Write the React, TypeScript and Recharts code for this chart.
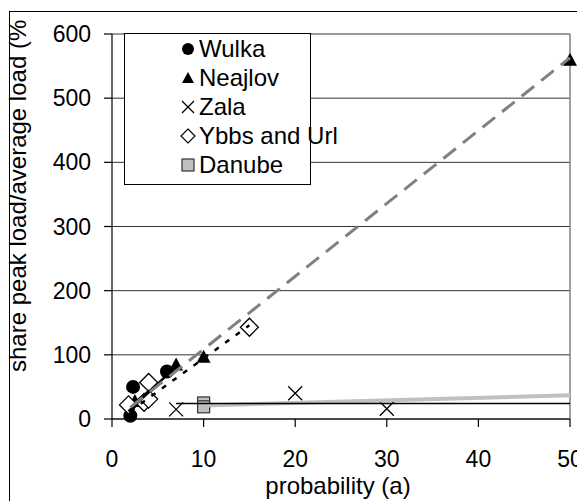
import React from "react";
import {
  ScatterChart,
  Scatter,
  XAxis,
  YAxis,
  CartesianGrid,
  ReferenceLine,
  Legend,
} from "recharts";

type Pt = { x: number; y: number };

// Observed peak-load shares per river
const wulka: Pt[] = [
  { x: 2, y: 5 },
  { x: 2.3, y: 50 },
  { x: 6, y: 74 },
];
const neajlov: Pt[] = [
  { x: 2.5, y: 28 },
  { x: 7, y: 85 },
  { x: 10, y: 97 },
  { x: 50, y: 560 },
];
const zala: Pt[] = [
  { x: 7, y: 15 },
  { x: 20, y: 40 },
  { x: 30, y: 16 },
];
const ybbs: Pt[] = [
  { x: 1.8, y: 22 },
  { x: 3.5, y: 26 },
  { x: 4, y: 57 },
  { x: 4, y: 31 },
  { x: 15, y: 143 },
];
const danube: Pt[] = [
  { x: 10, y: 25 },
  { x: 10, y: 19 },
];

// Fitted trend lines (end points)
const wulkaTrend: Pt[] = [
  { x: 1.8, y: 12 },
  { x: 7, y: 82 },
];
const neajlovTrend: Pt[] = [
  { x: 2, y: 18 },
  { x: 50, y: 563 },
];
const zalaTrend: Pt[] = [
  { x: 7, y: 24 },
  { x: 50, y: 24 },
];
const ybbsTrend: Pt[] = [
  { x: 2, y: 12 },
  { x: 15, y: 146 },
];
const danubeTrend: Pt[] = [
  { x: 10, y: 21 },
  { x: 50, y: 37 },
];

const xTicks = [0, 10, 20, 30, 40, 50];
const yTicks = [0, 100, 200, 300, 400, 500, 600];

const legendNames = ["Wulka", "Neajlov", "Zala", "Ybbs and Url", "Danube"];

const FONT = "Arial, 'Liberation Sans', sans-serif";
const W = 577;
const H = 493;

const Circle = (p: any) => <circle cx={p.cx} cy={p.cy} r={7} fill="#000" />;
const Triangle = (p: any) => (
  <path
    d={`M${p.cx},${p.cy - 7} L${p.cx + 7},${p.cy + 6} L${p.cx - 7},${p.cy + 6} Z`}
    fill="#000"
  />
);
const Cross = (p: any) => (
  <path
    d={`M${p.cx - 7},${p.cy - 7} L${p.cx + 7},${p.cy + 7} M${p.cx + 7},${p.cy - 7} L${p.cx - 7},${p.cy + 7}`}
    stroke="#000"
    strokeWidth={1.3}
    fill="none"
  />
);
const Diamond = (p: any) => (
  <path
    d={`M${p.cx},${p.cy - 9} L${p.cx + 9},${p.cy} L${p.cx},${p.cy + 9} L${p.cx - 9},${p.cy} Z`}
    stroke="#000"
    strokeWidth={1.3}
    fill="#fff"
  />
);
const Square = (p: any) => (
  <rect x={p.cx - 6} y={p.cy - 6} width={12} height={12} fill="#c0c0c0" stroke="#333" strokeWidth={1.2} />
);
const NoShape = () => <g />;

const XTick = (p: any) => (
  <text x={p.x} y={p.y + 38} textAnchor="middle" fontFamily={FONT} fontSize={23} fill="#000">
    {p.payload.value}
  </text>
);
const YTick = (p: any) => (
  <text x={p.x - 11} y={p.y + 8} textAnchor="end" fontFamily={FONT} fontSize={23} fill="#000">
    {p.payload.value}
  </text>
);

const legendIcons = [
  <circle cx={8} cy={8} r={6} fill="#000" />,
  <path d="M8,2 L14,13 L2,13 Z" fill="#000" />,
  <path d="M2,2 L14,14 M14,2 L2,14" stroke="#000" strokeWidth={1.3} fill="none" />,
  <path d="M8,1 L15,8 L8,15 L1,8 Z" stroke="#000" strokeWidth={1.2} fill="#fff" />,
  <rect x={2} y={2} width={12} height={12} fill="#c0c0c0" stroke="#333" strokeWidth={1.2} />,
];

const LegendBox = () => (
  <div
    style={{
      width: 187,
      height: 152,
      boxSizing: "border-box",
      border: "1px solid #000",
      background: "#fff",
      paddingTop: 0,
      fontFamily: FONT,
      fontSize: 24,
      overflow: "visible",
    }}
  >
    {legendNames.map((n, i) => (
      <div key={n} style={{ display: "flex", alignItems: "center", height: 29, whiteSpace: "nowrap" }}>
        <svg width={16} height={16} style={{ marginLeft: 55, marginRight: 3, flexShrink: 0 }}>
          {legendIcons[i]}
        </svg>
        <span style={{ flexShrink: 0 }}>{n}</span>
      </div>
    ))}
  </div>
);

const YTitle = () => (
  <g>
    <defs>
      <clipPath id="frame-clip">
        <rect x={0} y={11} width={W} height={H} />
      </clipPath>
    </defs>
    <g clipPath="url(#frame-clip)">
      <text
        transform="translate(18,364) rotate(-90)"
        textAnchor="start"
        fontFamily={FONT}
        fontSize={24}
        fill="#000"
      >
        share peak load/average load (%)
      </text>
    </g>
  </g>
);

const XTitle = () => (
  <text x={330} y={486} textAnchor="middle" fontFamily={FONT} fontSize={24} fill="#000">
    probability (a)
  </text>
);

export default function App() {
  return (
    <div style={{ position: "relative", width: W, height: H, overflow: "hidden", background: "#fff" }}>
      <div
        style={{
          position: "absolute",
          left: 1,
          top: 3,
          width: 574,
          height: H + 20,
          borderLeft: "1px solid #000",
          borderTop: "1px solid #000",
          borderRight: "1px solid #000",
          boxSizing: "border-box",
        }}
      />
      <div style={{ position: "absolute", left: 0, top: 0 }}>
        <ScatterChart width={W} height={H} margin={{ top: 26, right: 15, bottom: 0, left: 0 }}>
          <CartesianGrid horizontal vertical={false} stroke="#333" strokeWidth={1} />
          <XAxis
            type="number"
            dataKey="x"
            domain={[0, 50]}
            ticks={xTicks}
            height={82}
            axisLine={{ stroke: "#000", strokeWidth: 1.2 }}
            tickLine={{ stroke: "#000", strokeWidth: 1.2 }}
            tickSize={8}
            tick={<XTick />}
            label={<XTitle />}
          />
          <YAxis
            type="number"
            dataKey="y"
            domain={[0, 600]}
            ticks={yTicks}
            width={104}
            axisLine={{ stroke: "#000", strokeWidth: 1.2 }}
            tickLine={{ stroke: "#000", strokeWidth: 1.2 }}
            tickSize={8}
            tick={<YTick />}
            label={<YTitle />}
          />
          <ReferenceLine x={50} stroke="#808080" strokeWidth={1.5} />
          <Scatter name="Wulka" data={wulka} shape={<Circle />} isAnimationActive={false} />
          <Scatter name="Neajlov" data={neajlov} shape={<Triangle />} isAnimationActive={false} />
          <Scatter name="Zala" data={zala} shape={<Cross />} isAnimationActive={false} />
          <Scatter name="Ybbs and Url" data={ybbs} shape={<Diamond />} isAnimationActive={false} />
          <Scatter name="Danube" data={danube} shape={<Square />} isAnimationActive={false} />
          <Scatter
            data={danubeTrend}
            shape={<NoShape />}
            line={{ stroke: "#c0c0c0", strokeWidth: 4 }}
            legendType="none"
            isAnimationActive={false}
          />
          <Scatter
            data={zalaTrend}
            shape={<NoShape />}
            line={{ stroke: "#000", strokeWidth: 1.5 }}
            legendType="none"
            isAnimationActive={false}
          />
          <Scatter
            data={wulkaTrend}
            shape={<NoShape />}
            line={{ stroke: "#000", strokeWidth: 2.5 }}
            legendType="none"
            isAnimationActive={false}
          />
          <Scatter
            data={ybbsTrend}
            shape={<NoShape />}
            line={{ stroke: "#000", strokeWidth: 2.5, strokeDasharray: "5 8" }}
            legendType="none"
            isAnimationActive={false}
          />
          <Scatter
            data={neajlovTrend}
            shape={<NoShape />}
            line={{ stroke: "#808080", strokeWidth: 3, strokeDasharray: "16 9" }}
            legendType="none"
            isAnimationActive={false}
          />
          <Legend
            layout="vertical"
            align="center"
            verticalAlign="middle"
            content={<LegendBox />}
            wrapperStyle={{ position: "absolute", left: 116, top: 25, width: 187, height: 152 }}
          />
        </ScatterChart>
      </div>
    </div>
  );
}
